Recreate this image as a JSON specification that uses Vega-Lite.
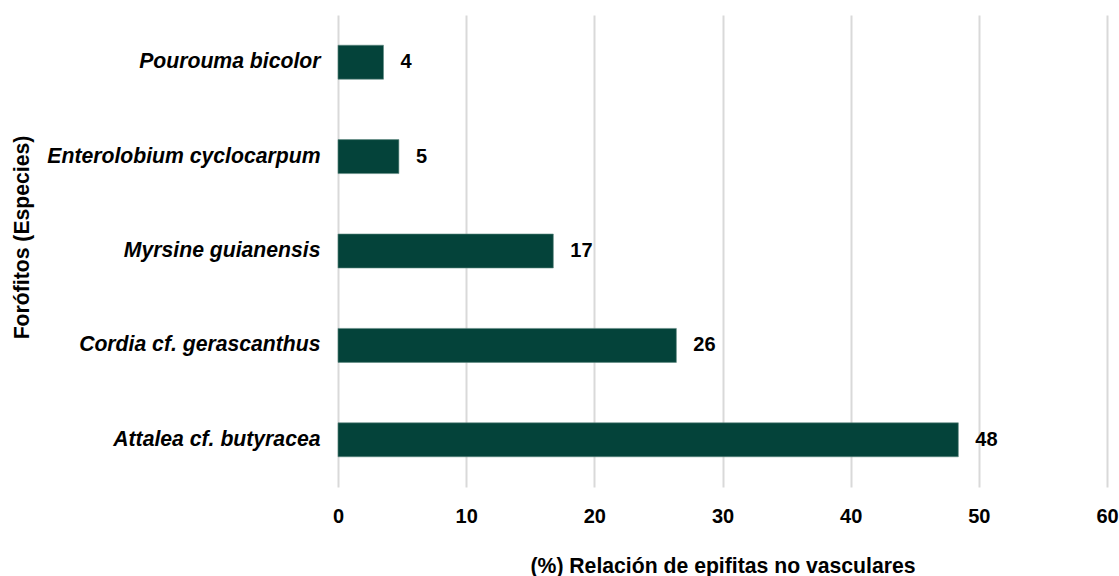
{
  "$schema": "https://vega.github.io/schema/vega-lite/v6.json",
  "autosize": {"type": "none"},
  "width": 769,
  "height": 472,
  "padding": {"left": 338, "top": 15, "right": 12, "bottom": 89},
  "background": "white",
  "config": {
    "view": {"stroke": null},
    "font": "Liberation Sans"
  },
  "data": {
    "values": [
      {"especie": "Pourouma bicolor", "valor": 3.55},
      {"especie": "Enterolobium cyclocarpum", "valor": 4.75},
      {"especie": "Myrsine guianensis", "valor": 16.8},
      {"especie": "Cordia cf. gerascanthus", "valor": 26.4},
      {"especie": "Attalea cf. butyracea", "valor": 48.4}
    ]
  },
  "encoding": {
    "y": {
      "field": "especie",
      "type": "nominal",
      "sort": null,
      "scale": {"paddingInner": 0.64, "paddingOuter": 0.32},
      "axis": {
        "title": "Forófitos (Especies)",
        "titleFont": "Liberation Sans",
        "titleFontSize": 21.2,
        "titleFontWeight": "bold",
        "titleColor": "#000000",
        "titleX": -316,
        "titleY": 222,
        "titleAngle": -90,
        "titleBaseline": "middle",
        "titleAlign": "center",
        "labelFont": "Liberation Sans",
        "labelFontSize": 21.2,
        "labelFontWeight": "bold",
        "labelFontStyle": "italic",
        "labelColor": "#000000",
        "labelPadding": 18,
        "labelLimit": 400,
        "ticks": false,
        "domain": false,
        "grid": false
      }
    },
    "x": {
      "field": "valor",
      "type": "quantitative",
      "scale": {"domain": [0, 60], "nice": false},
      "axis": {
        "values": [0, 10, 20, 30, 40, 50, 60],
        "title": "(%) Relación de epifitas no vasculares",
        "titleFont": "Liberation Sans",
        "titleFontSize": 21.2,
        "titleFontWeight": "bold",
        "titleColor": "#000000",
        "titlePadding": 29,
        "labelFont": "Liberation Sans",
        "labelFontSize": 20,
        "labelFontWeight": "bold",
        "labelColor": "#000000",
        "labelPadding": 19,
        "labelFlush": false,
        "labelOverlap": false,
        "ticks": false,
        "domain": false,
        "grid": true,
        "gridColor": "#d9d9d9",
        "gridWidth": 2
      }
    }
  },
  "layer": [
    {
      "mark": {"type": "bar", "color": "#04433a", "stroke": "#5f8a82", "strokeWidth": 0.6}
    },
    {
      "mark": {
        "type": "text",
        "align": "left",
        "baseline": "middle",
        "dx": 17,
        "font": "Liberation Sans",
        "fontSize": 20,
        "fontWeight": "bold",
        "color": "#000000"
      },
      "encoding": {
        "text": {"field": "valor", "type": "quantitative", "format": ".0f"}
      }
    }
  ]
}
